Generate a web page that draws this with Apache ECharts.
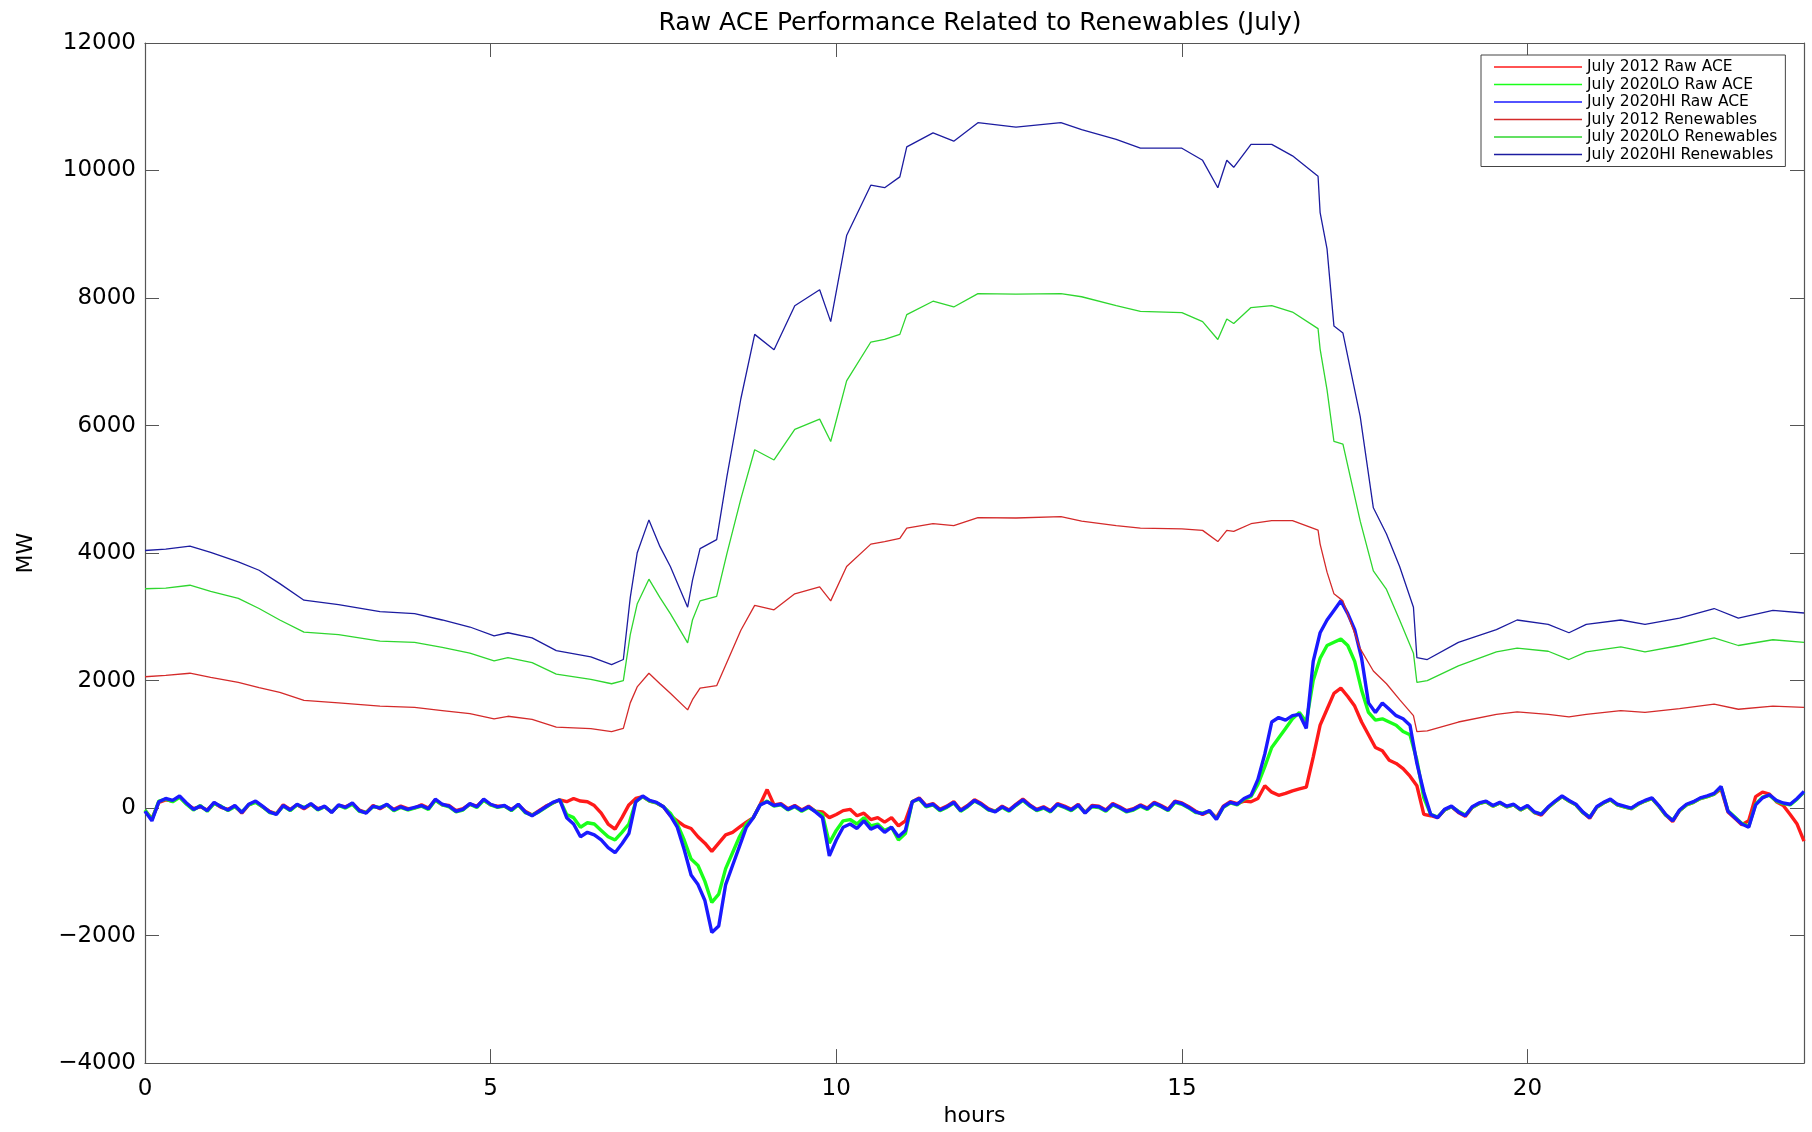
<!DOCTYPE html>
<html>
<head>
<meta charset="utf-8">
<title>Raw ACE Performance Related to Renewables (July)</title>
<script src="https://cdn.jsdelivr.net/npm/echarts@6/dist/echarts.min.js"></script>
<style>
  html, body { margin: 0; padding: 0; background: #fff; }
  #chart { width: 1812px; height: 1132px; }
</style>
</head>
<body>
<div id="chart"></div>
<script>
// sampling grid of the raw ACE traces: one reading every 0.1 h
const aceHours = Array.from({ length: 241 }, (_, i) => i / 10);

const ace2012 = [
  -40, -170, 90, 130, 110, 180, 70, -10, 20, -30,
  80, 10, -20, 30, -80, 50, 100, 20, -50, -90,
  50, -20, 50, -10, 60, -10, 20, -60, 40, 20,
  70, -30, -70, 40, -10, 50, -20, 30, -10, 0,
  50, 0, 130, 50, 40, -40, -10, 60, 30, 130,
  50, 30, 30, -20, 50, -50, -110, -40, 30, 80,
  130, 100, 150, 110, 100, 40, -80, -250, -330, -150,
  50, 150, 180, 110, 80, 20, -120, -200, -280, -320,
  -450, -550, -680, -550, -420, -380, -300, -220, -150, 60,
  290, 50, 70, -10, 40, -30, 30, -50, -60, -150,
  -100, -40, -20, -120, -80, -180, -150, -220, -150, -280,
  -200, 100, 160, 40, 70, -20, 30, 100, -30, 40,
  130, 70, -10, -50, 30, -30, 60, 140, 50, -20,
  20, -40, 70, 30, -20, 60, -70, 40, 30, -30,
  70, 20, -40, -10, 50, 0, 90, 40, -20, 110,
  80, 20, -50, -100, -50, -150, 30, 100, 70, 110,
  100, 150, 350, 250, 200, 230, 270, 300, 330, 800,
  1300, 1550, 1800, 1880, 1750, 1600, 1350, 1150, 950, 900,
  750, 700, 620, 500, 350, -100, -120, -150, -30, 20,
  -70, -130, 10, 70, 100, 30, 80, 20, 50, -30,
  30, -70, -110, 10, 100, 180, 110, 50, -70, -160,
  10, 80, 130, 50, 20, -10, 60, 110, 150, 30,
  -110, -210, -40, 50, 90, 150, 180, 220, 300, -60,
  -160, -260, -200, 180, 250, 220, 100, 40, -100, -250,
  -520
];

const ace2020lo = [
  -30, -180, 110, 140, 100, 170, 60, -30, 40, -50,
  70, 30, -40, 20, -60, 50, 90, 20, -70, -90,
  30, -40, 50, 10, 60, -30, 20, -60, 40, 0,
  60, -50, -70, 20, 10, 50, -40, 10, -30, 0,
  30, -20, 120, 50, 20, -60, -30, 60, 10, 120,
  50, 10, 30, -40, 50, -70, -110, -60, 10, 80,
  130, -100, -150, -300, -230, -250, -350, -450, -500, -380,
  -250, 100, 180, 110, 80, 20, -80, -250, -500, -800,
  -900, -1150, -1480, -1350, -950, -700, -450, -250, -150, 50,
  110, 30, 50, -30, 20, -50, 10, -50, -100, -550,
  -350, -200, -180, -250, -150, -280, -250, -350, -300, -500,
  -400, 100, 140, 20, 50, -40, 10, 80, -50, 20,
  110, 50, -30, -50, 10, -50, 40, 120, 30, -40,
  0, -60, 50, 10, -40, 40, -70, 20, 10, -50,
  50, 0, -60, -30, 30, -20, 70, 20, -40, 90,
  60, 0, -70, -80, -50, -170, 10, 80, 50, 140,
  180, 370, 650, 950, 1100, 1250, 1400, 1500, 1350, 2000,
  2350, 2550, 2600, 2650, 2550, 2300, 1850, 1500, 1380, 1400,
  1350, 1300, 1200, 1150, 750, 160, -100, -140, -30, 20,
  -50, -110, 10, 70, 100, 30, 80, 20, 50, -30,
  30, -70, -90, 10, 100, 180, 110, 50, -70, -140,
  10, 80, 130, 50, 20, -10, 60, 110, 150, 30,
  -110, -190, -40, 50, 90, 150, 180, 220, 330, -40,
  -140, -240, -290, 60, 170, 200, 110, 70, 50, 140,
  250
];

const ace2020hi = [
  -50, -200, 100, 150, 120, 190, 80, -20, 30, -40,
  90, 20, -30, 40, -70, 60, 110, 30, -60, -100,
  40, -30, 60, 0, 70, -20, 30, -70, 50, 10,
  80, -40, -80, 30, 0, 60, -30, 20, -20, 10,
  40, -10, 140, 60, 30, -50, -20, 70, 20, 140,
  60, 20, 40, -30, 60, -60, -120, -50, 20, 90,
  130, -150, -250, -450, -380, -420, -500, -620, -700, -560,
  -400, 100, 190, 120, 90, 20, -120, -300, -650, -1050,
  -1200, -1450, -1950, -1850, -1200, -900, -600, -300, -150, 50,
  100, 40, 60, -20, 30, -40, 20, -60, -150, -750,
  -500, -300, -250, -320, -200, -330, -280, -380, -300, -450,
  -350, 100, 150, 30, 60, -30, 20, 90, -40, 30,
  120, 60, -20, -60, 20, -40, 50, 130, 40, -30,
  10, -50, 60, 20, -30, 50, -80, 30, 20, -40,
  60, 10, -50, -20, 40, -10, 80, 30, -30, 100,
  70, 10, -60, -90, -40, -180, 20, 90, 60, 150,
  200, 450, 850, 1350, 1420, 1380, 1450, 1470, 1250, 2300,
  2750, 2950, 3100, 3250, 3050, 2800, 2350, 1650, 1500, 1650,
  1550, 1450, 1400, 1300, 700, 250, -100, -150, -20, 30,
  -60, -120, 20, 80, 110, 40, 90, 30, 60, -20,
  40, -60, -100, 20, 110, 190, 120, 60, -60, -150,
  20, 90, 140, 60, 30, 0, 70, 120, 160, 40,
  -100, -200, -30, 60, 100, 160, 190, 230, 340, -50,
  -150, -250, -300, 50, 160, 210, 120, 80, 60, 150,
  260
];

// renewables are smooth, read at the hours where the curves bend
const renHours = [
  0, 0.3, 0.65, 0.95, 1.35, 1.65, 1.95, 2.3, 2.8, 3.4,
  3.9, 4.3, 4.7, 5.05, 5.25, 5.6, 5.95, 6.45, 6.75, 6.92,
  7.02, 7.12, 7.29, 7.45, 7.6, 7.85, 7.92, 8.03, 8.27, 8.42,
  8.62, 8.82, 9.1, 9.4, 9.76, 9.92, 10.15, 10.5, 10.7, 10.92,
  11.02, 11.4, 11.7, 12.05, 12.6, 13.25, 13.55, 14.05, 14.4, 15.0,
  15.3, 15.52, 15.65, 15.75, 16.0, 16.3, 16.6, 16.97, 17.0, 17.1,
  17.2, 17.33, 17.58, 17.77, 17.96, 18.15, 18.35, 18.4, 18.55, 19.0,
  19.55, 19.85, 20.3, 20.6, 20.85, 21.35, 21.7, 22.2, 22.7, 23.05,
  23.55, 24.0
];

const ren2012 = [
  2060, 2080, 2115, 2050, 1970, 1890, 1815, 1690, 1650, 1600,
  1580, 1530, 1480, 1400, 1440, 1390, 1270, 1245, 1200, 1250,
  1650, 1900, 2115, 1950, 1800, 1540, 1700, 1880, 1920, 2290,
  2790, 3180, 3110, 3360, 3470, 3250, 3790, 4140, 4180, 4230,
  4390, 4460, 4430, 4555, 4550, 4570, 4500, 4430, 4390, 4380,
  4356, 4180, 4356, 4340, 4460, 4510, 4510, 4360, 4140, 3700,
  3360, 3250, 2500, 2150, 1950, 1700, 1450, 1200, 1210, 1350,
  1470, 1510, 1470, 1430, 1470, 1530, 1500, 1560, 1630, 1550,
  1600, 1580
];

const ren2020lo = [
  3440, 3450, 3495, 3400, 3290, 3130, 2950, 2760, 2720, 2620,
  2600, 2520, 2430, 2310, 2360, 2280, 2100, 2020, 1950, 2000,
  2720, 3200, 3590, 3300, 3050, 2590, 2950, 3250, 3320, 4000,
  4850, 5620, 5460, 5940, 6100, 5750, 6700, 7310, 7350, 7430,
  7740, 7950, 7860, 8070, 8060, 8070, 8020, 7880, 7790, 7770,
  7630, 7350, 7670, 7600, 7850, 7880, 7780, 7520, 7200, 6560,
  5750, 5710, 4500, 3720, 3430, 2950, 2430, 1970, 2000, 2230,
  2450, 2510, 2460, 2330, 2450, 2530, 2450, 2550, 2670, 2550,
  2640, 2600
];

const ren2020hi = [
  4040, 4060, 4110, 4010, 3860, 3730, 3520, 3260, 3190, 3080,
  3050, 2950, 2840, 2700, 2750, 2670, 2470, 2370, 2250, 2330,
  3300, 4000, 4520, 4100, 3790, 3150, 3570, 4070, 4210, 5210,
  6420, 7430, 7190, 7880, 8130, 7630, 8980, 9770, 9730, 9900,
  10370, 10590, 10460, 10750, 10680, 10750, 10640, 10490, 10350, 10350,
  10160, 9730, 10160, 10050, 10410, 10410, 10230, 9910, 9340, 8770,
  7560, 7450, 6140, 4710, 4300, 3790, 3150, 2360, 2330, 2600,
  2800, 2950, 2880, 2750, 2880, 2950, 2880, 2980, 3130, 2980,
  3100, 3060
];

const yTicks = { min: -4000, max: 12000, step: 2000 };
const xTicks = { min: 0, max: 24, step: 5 };

const FONT = 'DejaVu Sans';
const AXIS_COLOR = '#555555';

function pairs(hours, values) {
  return hours.map((h, i) => [h, values[i]]);
}

function lineSeries(name, hours, values, color, width) {
  return {
    name,
    type: 'line',
    data: pairs(hours, values),
    symbol: 'none',
    showSymbol: false,
    sampling: 'none',
    silent: true,
    lineStyle: { color, width },
    itemStyle: { color },
  };
}

function boxAxis(extra, range) {
  return Object.assign({
    type: 'value',
    min: range.min,
    max: range.max,
    interval: range.step,
    axisLine: { show: true, onZero: false, lineStyle: { color: AXIS_COLOR, width: 1.2 } },
    axisTick: { show: true, inside: true, length: 14, lineStyle: { color: AXIS_COLOR } },
    splitLine: { show: false },
    axisLabel: { show: false },
  }, extra);
}

// plain numbers, no thousands separator, long minus like the original
function plainNumber(v) {
  return v < 0 ? '\u2212' + Math.abs(v) : String(v);
}

const chart = echarts.init(document.getElementById('chart'));

chart.setOption({
  animation: false,
  backgroundColor: '#ffffff',
  title: {
    text: 'Raw ACE Performance Related to Renewables (July)',
    left: 975,
    top: 6,
    textAlign: 'center',
    textStyle: { fontFamily: FONT, fontSize: 25, fontWeight: 'normal', color: '#000' },
  },
  legend: {
    orient: 'vertical',
    left: 1481,
    top: 55,
    icon: 'rect',
    itemWidth: 88,
    itemHeight: 1.4,
    itemGap: 1.5,
    padding: [4, 8, 4, 13],
    borderColor: '#444',
    borderWidth: 1,
    backgroundColor: '#fff',
    textStyle: { fontFamily: FONT, fontSize: 15.5, lineHeight: 16, color: '#000' },
  },
  grid: { left: 145, right: 8, top: 43, bottom: 57 },
  xAxis: [
    boxAxis({
      position: 'bottom',
      name: 'hours',
      nameLocation: 'middle',
      nameGap: 40,
      nameTextStyle: { fontFamily: FONT, fontSize: 22, color: '#000' },
      axisLabel: { show: true, showMaxLabel: false, margin: 14, fontFamily: FONT, fontSize: 23, color: '#000' },
    }, xTicks),
    boxAxis({ position: 'top' }, xTicks),
  ],
  yAxis: [
    boxAxis({
      position: 'left',
      name: 'MW',
      nameLocation: 'middle',
      nameGap: 108,
      nameRotate: 90,
      nameTextStyle: { fontFamily: FONT, fontSize: 22, color: '#000' },
      axisLabel: { show: true, margin: 9, fontFamily: FONT, fontSize: 23, color: '#000', formatter: plainNumber },
    }, yTicks),
    boxAxis({ position: 'right' }, yTicks),
  ],
  series: [
    lineSeries('July 2012 Raw ACE', aceHours, ace2012, '#ff1a1a', 3.4),
    lineSeries('July 2020LO Raw ACE', aceHours, ace2020lo, '#1aff1a', 3.4),
    lineSeries('July 2020HI Raw ACE', aceHours, ace2020hi, '#1a1aff', 3.4),
    lineSeries('July 2012 Renewables', renHours, ren2012, '#d42a2a', 1.3),
    lineSeries('July 2020LO Renewables', renHours, ren2020lo, '#2fd62f', 1.3),
    lineSeries('July 2020HI Renewables', renHours, ren2020hi, '#1c1ca0', 1.3),
  ],
});
</script>
</body>
</html>
